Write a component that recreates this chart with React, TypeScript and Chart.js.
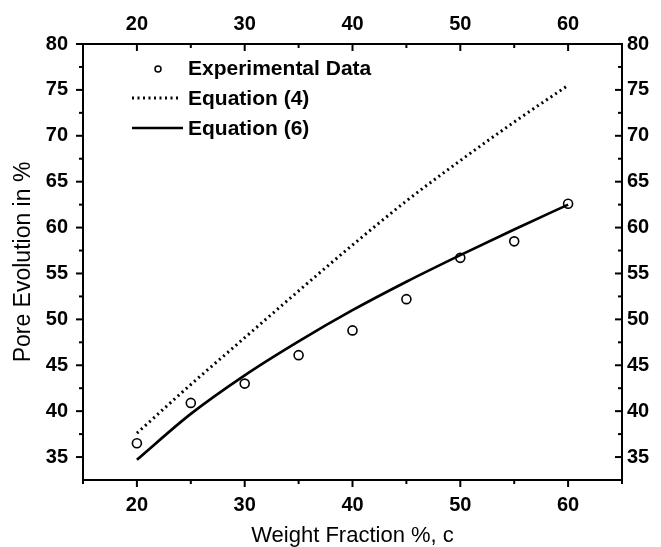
import React, { useEffect, useRef } from "react";
import { Chart, registerables } from "chart.js";

Chart.register(...registerables);

const weightFraction = [20, 25, 30, 35, 40, 45, 50, 55, 60];
const experimental = [36.5, 40.9, 43.0, 46.1, 48.8, 52.2, 56.7, 58.5, 62.6];
const equation4 = [37.6, 42.9, 48.0, 53.1, 58.1, 62.9, 67.3, 71.5, 75.5];
const equation6 = [34.7, 39.7, 43.9, 47.6, 51.0, 54.1, 57.0, 59.8, 62.5];

const seriesLabels = ["Experimental Data", "Equation (4)", "Equation (6)"];
const xTitle = "Weight Fraction %, c";
const yTitle = "Pore Evolution in %";

const xTicks = [20, 30, 40, 50, 60];
const xMinorTicks = [15, 25, 35, 45, 55, 65];
const yTicks = [35, 40, 45, 50, 55, 60, 65, 70, 75, 80];
const yMinorTicks = [37.5, 42.5, 47.5, 52.5, 57.5, 62.5, 67.5, 72.5, 77.5];

const FONT = '"Liberation Sans", Arial, Helvetica, sans-serif';

const setTicks = (vals: number[]) => (scale: any) => {
  scale.ticks = vals.map((v) => ({ value: v }));
};

const decorPlugin = {
  id: "decor",
  afterDraw(chart: any) {
    const { ctx, chartArea, scales } = chart;
    const { left, right, top, bottom } = chartArea;
    ctx.save();
    ctx.strokeStyle = "#000";
    ctx.lineWidth = 2;
    const seg = (x1: number, y1: number, x2: number, y2: number) => {
      ctx.beginPath();
      ctx.moveTo(x1, y1);
      ctx.lineTo(x2, y2);
      ctx.stroke();
    };
    xTicks.forEach((v) => {
      const px = scales.x.getPixelForValue(v);
      seg(px, bottom, px, bottom + 7);
      seg(px, top, px, top + 7);
    });
    xMinorTicks.forEach((v) => {
      const px = scales.x.getPixelForValue(v);
      seg(px, bottom, px, bottom + 4);
      seg(px, top, px, top + 4);
    });
    yTicks.forEach((v) => {
      const py = scales.y.getPixelForValue(v);
      seg(left, py, left - 7, py);
      seg(right, py, right - 7, py);
    });
    yMinorTicks.forEach((v) => {
      const py = scales.y.getPixelForValue(v);
      seg(left, py, left - 4, py);
      seg(right, py, right - 4, py);
    });

    // legend
    const ds = chart.data.datasets;
    const tx = left + 105;
    const base = [top + 31, top + 61, top + 91];
    ctx.fillStyle = "#000";
    ctx.font = `bold 21px ${FONT}`;
    ctx.textBaseline = "alphabetic";
    ctx.textAlign = "left";
    ds.forEach((d: any, i: number) => ctx.fillText(d.label, tx, base[i]));
    ctx.lineWidth = 1.5;
    ctx.beginPath();
    ctx.arc(left + 75, base[0] - 6, 3, 0, Math.PI * 2);
    ctx.stroke();
    ctx.lineWidth = 3;
    ctx.setLineDash([2, 3.5]);
    seg(left + 49, base[1] - 7, left + 97, base[1] - 7);
    ctx.setLineDash([]);
    ctx.lineWidth = 2.7;
    seg(left + 49, base[2] - 7, left + 100, base[2] - 7);
    ctx.restore();
  },
};

const tickFont = { family: FONT, size: 20, weight: "bold" as const };
const gridOff = { display: false, drawTicks: false };
const borderOn = { display: true, color: "#000", width: 2 };

export default function App() {
  const ref = useRef<HTMLCanvasElement | null>(null);
  useEffect(() => {
    if (!ref.current) return;
    const chart = new Chart(ref.current, {
      type: "line",
      data: {
        labels: weightFraction,
        datasets: [
          {
            label: seriesLabels[0],
            data: weightFraction.map((x, i) => ({ x, y: experimental[i] })),
            showLine: false,
            borderColor: "#000",
            backgroundColor: "rgba(0,0,0,0)",
            pointStyle: "circle",
            pointRadius: 4.5,
            pointBorderWidth: 1.6,
            pointBorderColor: "#000",
            pointBackgroundColor: "rgba(0,0,0,0)",
          },
          {
            label: seriesLabels[1],
            data: weightFraction.map((x, i) => ({ x, y: equation4[i] })),
            borderColor: "#000",
            borderWidth: 3,
            borderDash: [2, 3.5],
            pointRadius: 0,
            cubicInterpolationMode: "monotone",
            fill: false,
          },
          {
            label: seriesLabels[2],
            data: weightFraction.map((x, i) => ({ x, y: equation6[i] })),
            borderColor: "#000",
            borderWidth: 2.7,
            pointRadius: 0,
            cubicInterpolationMode: "monotone",
            fill: false,
          },
        ],
      },
      options: {
        animation: false,
        responsive: false,
        devicePixelRatio: 1,
        layout: { padding: 0 },
        plugins: { legend: { display: false }, tooltip: { enabled: false } },
        scales: {
          x: {
            type: "linear",
            position: "bottom",
            min: 15,
            max: 65,
            afterBuildTicks: setTicks(xTicks),
            afterFit: (s: any) => {
              s.height = 67;
            },
            grid: gridOff,
            border: borderOn,
            ticks: { color: "#000", font: tickFont, padding: 13, maxRotation: 0, autoSkip: false },
            title: {
              display: true,
              text: xTitle,
              color: "#000",
              font: { family: FONT, size: 22, lineHeight: 1 },
              padding: { top: 0, bottom: 0 },
            },
          },
          x2: {
            type: "linear",
            position: "top",
            min: 15,
            max: 65,
            afterBuildTicks: setTicks(xTicks),
            afterFit: (s: any) => {
              s.height = 44;
            },
            grid: gridOff,
            border: borderOn,
            ticks: { color: "#000", font: tickFont, padding: 8, maxRotation: 0, autoSkip: false },
          },
          y: {
            type: "linear",
            position: "left",
            min: 32.5,
            max: 80,
            afterBuildTicks: setTicks(yTicks),
            afterFit: (s: any) => {
              s.width = 83;
            },
            grid: gridOff,
            border: borderOn,
            ticks: { color: "#000", font: tickFont, padding: 15, autoSkip: false },
            title: {
              display: true,
              text: yTitle,
              color: "#000",
              font: { family: FONT, size: 23 },
              padding: { top: 10, bottom: 0 },
            },
          },
          y2: {
            type: "linear",
            position: "right",
            min: 32.5,
            max: 80,
            afterBuildTicks: setTicks(yTicks),
            afterFit: (s: any) => {
              s.width = 39;
            },
            grid: gridOff,
            border: borderOn,
            ticks: { color: "#000", font: tickFont, padding: 5, autoSkip: false },
          },
        },
      },
      plugins: [decorPlugin],
    } as any);
    return () => chart.destroy();
  }, []);
  return (
    <div style={{ position: "fixed", left: 0, top: 0, width: 661, height: 547, background: "#fff" }}>
      <canvas ref={ref} width={661} height={547} style={{ display: "block" }} />
    </div>
  );
}
